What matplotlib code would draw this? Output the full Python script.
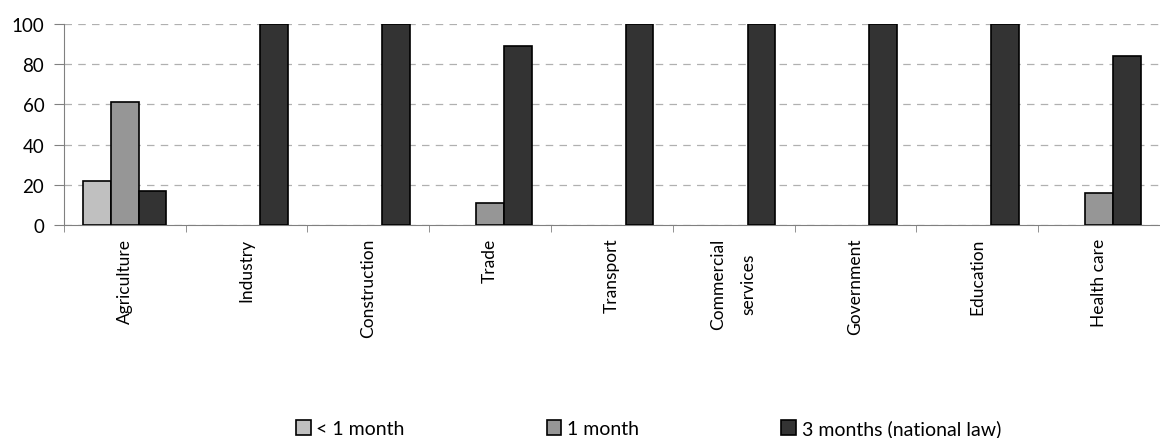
import numpy as np
import matplotlib
matplotlib.use("Agg")
import matplotlib.pyplot as plt

# ── data ──
categories = ["Agriculture", "Industry", "Construction", "Trade", "Transport",
              "Commercial\nservices", "Government", "Education", "Health care"]
less_1m = [22, 0, 0, 0, 0, 0, 0, 0, 0]
one_m = [61, 0, 0, 11, 0, 0, 0, 0, 16]
three_m = [17, 100, 100, 89, 100, 100, 100, 100, 84]
series_names = ["< 1 month", "1 month", "3 months (national law)"]

plt.rcParams['font.family'] = ['Lato', 'DejaVu Sans']

fig = plt.figure(figsize=(11.6, 4.39), dpi=100)
ax = fig.add_axes([0.055, 0.485, 0.945, 0.458])

x = np.arange(len(categories))
w = 0.227
colors = ["#c0c0c0", "#969696", "#333333"]
for i, (vals, name) in enumerate(zip([less_1m, one_m, three_m], series_names)):
    vals = np.array(vals, dtype=float)
    keep = vals > 0  # zero bars are not drawn
    ax.bar(x[keep] + (i - 1) * w, vals[keep], w, color=colors[i], edgecolor="black",
           linewidth=1.2, label=name, zorder=3)

ax.set_xlim(-0.5, len(categories) - 0.5)
ax.set_ylim(0, 100)
ax.set_yticks(range(0, 101, 20))
ax.yaxis.grid(True, linestyle=(0, (6, 5)), color="#b0b0b0", linewidth=0.9)
ax.set_axisbelow(True)
for s in ["top", "right"]:
    ax.spines[s].set_visible(False)
for s in ["left", "bottom"]:
    ax.spines[s].set_color("#808080")

ax.set_xticks(x)
ax.set_xticklabels(categories, rotation=90, fontsize=12.5, va="top", ha="center",
                   linespacing=2.1)
ax.tick_params(axis="x", length=0, pad=9)
ax.set_xticks(np.arange(-0.5, len(categories), 1.0), minor=True)
ax.tick_params(axis="x", which="minor", length=5, color="#808080")
ax.tick_params(axis="y", length=7, color="#808080", labelsize=13.5, pad=7)

fig.legend(loc="lower center", bbox_to_anchor=(0.559, -0.038), ncol=3, frameon=False,
           fontsize=14, handlelength=0.75, handleheight=0.75, handletextpad=0.3,
           columnspacing=7.3)

fig.savefig("out.png", dpi=100)
